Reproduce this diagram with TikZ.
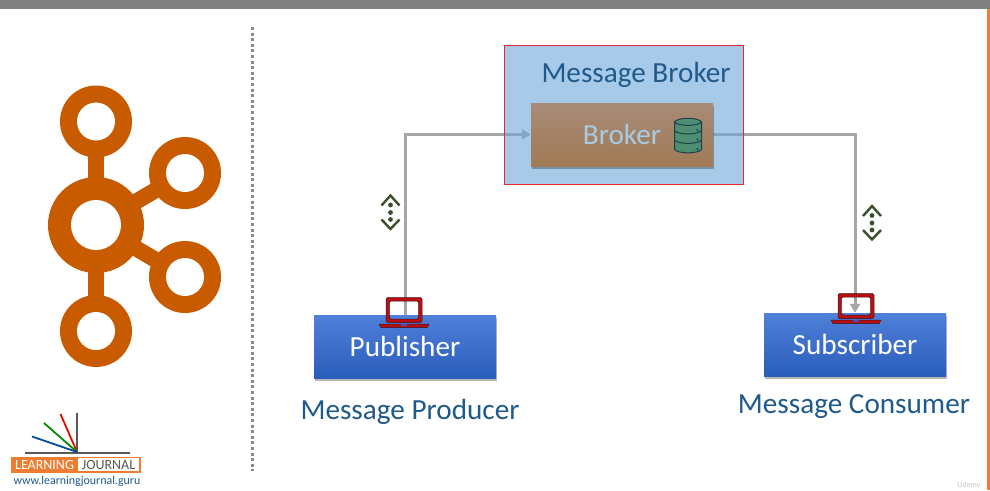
\documentclass[tikz,border=0pt]{standalone}
\usepackage{fontspec}
\setmainfont{Carlito}
\usetikzlibrary{shadows,arrows.meta,calc}
\pgfdeclarelayer{under}
\pgfsetlayers{under,main}
\definecolor{kafka}{HTML}{C85A00}
\definecolor{linkgray}{HTML}{A6A6A6}
\definecolor{titleblue}{HTML}{1F5A8C}
\definecolor{brokerblue}{HTML}{6BA8D9}
\definecolor{labelblue}{HTML}{A9CCE6}
\definecolor{laptopred}{HTML}{B81010}
\definecolor{laptopdark}{HTML}{3A1020}
\definecolor{iconolive}{HTML}{3B4F2B}
\definecolor{dbgreen}{HTML}{4E8F72}
\definecolor{dbdark}{HTML}{1F3F4A}
\definecolor{orangebar}{HTML}{ED7D31}
\definecolor{logogray}{HTML}{595959}
\definecolor{blue1}{HTML}{4F80DA}
\definecolor{blue2}{HTML}{2A5DBA}
\definecolor{brown1}{HTML}{A88B78}
\definecolor{brown2}{HTML}{A07A55}
\definecolor{boxred}{HTML}{E8282A}
\tikzset{
  caption/.style={text=titleblue,font=\fontsize{29.2}{32}\selectfont,inner sep=0pt},
  rolebox/.style={minimum width=182pt,minimum height=63pt,inner sep=0pt,
    text=white,font=\fontsize{29.2}{32}\selectfont,
    drop shadow={shadow xshift=.5pt,shadow yshift=-2.5pt,opacity=.28,fill=black}},
  bluebox/.style={rolebox,top color=blue1,bottom color=blue2},
  brownbox/.style={rolebox,top color=brown1,bottom color=brown2,text=labelblue},
  link/.style={draw=linkgray,line width=3pt,-{Triangle[length=9pt,width=10pt]}},
  spoke/.style={draw=kafka,line width=16pt},
}
\newcommand{\laptopicon}[2]{%
  \begin{scope}[shift={(#1,#2)}]
    \path[fill=laptopred,draw=laptopdark,line width=.5pt,even odd rule,rounded corners=1.5pt]
      (-18,-12.5) rectangle (18,12.5) (-14.7,-9) rectangle (14.7,9);
    \path[fill=laptopred,draw=laptopdark,line width=.5pt]
      (-25,14) -- (25,14) -- (23,17.5) -- (-23,17.5) -- cycle;
    \fill[blue!60!black!70!white] (-3,14) rectangle (3,15.5);
  \end{scope}}
\newcommand{\dotsicon}[2]{%
  \begin{scope}[shift={(#1,#2)}]
    \draw[iconolive,line width=2.4pt] (-9,-7) -- (0,-17) -- (9,-7);
    \draw[iconolive,line width=2.4pt] (-9,7) -- (0,16.5) -- (9,7);
    \foreach \yy in {-7.5,0,7}{\fill[iconolive] (0,\yy) circle (2.4);}
  \end{scope}}
\newcommand{\dbdisk}[1]{%
  \path[fill=dbgreen,draw=dbdark,line width=1pt]
    (674.5,#1) -- (674.5,#1+8.5) .. controls (678,#1+13) and (698,#1+13) .. (701.5,#1+8.5)
    -- (701.5,#1) -- cycle;
  \fill[dbdark] (697.5,#1+8) circle (1.2);}
\begin{document}
\begin{tikzpicture}[x=1pt,y=-1pt]
\useasboundingbox (0,0) rectangle (990,490);
\begin{pgfonlayer}{under}
\fill[white] (0,0) rectangle (990,490);
\end{pgfonlayer}
\fill[black!50] (0,0) rectangle (990,9);
\fill[orangebar] (987,9) rectangle (990,490);
\draw[black!45,line width=3pt,dash pattern=on 3pt off 2.6pt] (252,27) -- (252,471);

% Kafka logo
\draw[spoke] (96,121) -- (96,331);
\draw[spoke] (96,225) -- (185,173);
\draw[spoke] (96,225) -- (185,277);
\fill[kafka] (96,225) circle (48) (96,121.5) circle (36) (185,173) circle (36) (185,277) circle (36) (96,331) circle (36);
\fill[white] (96,225) circle (25) (96,121.5) circle (19) (185,173) circle (19) (185,277) circle (19) (96,331) circle (19);

% Learning Journal logo
\draw[logogray,line width=2pt] (25,453) -- (130,453);
\draw[logogray,line width=2pt] (77.3,412.5) -- (77.3,453);
\draw[red!85!black!90!orange,line width=1.8pt] (60.5,414) -- (77,452);
\draw[green!55!black,line width=1.8pt] (44,423) -- (77,452);
\draw[blue!45!black!70!cyan,line width=1.8pt] (32,436.5) -- (77,452);
\fill[orangebar] (10.7,456.5) rectangle (140.7,472.5);
\fill[white] (78,458) rectangle (138.5,471);
\node[inner sep=0pt,text=white,font=\fontsize{14}{15}\selectfont] (ljl) at (44.5,465) {LEARNING};
\node[inner sep=0pt,text=logogray,font=\fontsize{14}{15}\selectfont] (ljr) at (108.5,465) {JOURNAL};
\node[inner sep=0pt,text=titleblue,font=\fontsize{11.9}{14}\selectfont] (url) at (77,481) {www.learningjournal.guru};

% Message broker container and broker
\node[fill=brokerblue,fill opacity=.6,draw=none,minimum width=238pt,minimum height=138pt,inner sep=0pt] (mbox) at (624,115) {};
\draw[boxred,line width=1pt] (mbox.north west) rectangle (mbox.south east);
\node[caption] (mboxlabel) at (636,74.5) {Message Broker};
\node[brownbox] (broker) at (622,134.5) {Broker};
\dbdisk{141}
\dbdisk{131.5}
\dbdisk{122}
\path[fill=dbgreen,draw=dbdark,line width=1pt] (674.5,122) .. controls (678,117) and (698,117) .. (701.5,122) .. controls (698,126.5) and (678,126.5) .. (674.5,122) -- cycle;

% Publisher and subscriber
\node[bluebox] (pub) at (405,346.5) {Publisher};
\node[bluebox] (sub) at (855,344.5) {Subscriber};
\node[caption] (prod) at (410,411.5) {Message Producer};
\node[caption] (cons) at (854,407) {Message Consumer};

% Connectors, behind the boxes
\begin{pgfonlayer}{under}
\draw[link] (pub.north) |- (broker.west);
\draw[link] (broker.east) -| (sub.north);
\end{pgfonlayer}

\laptopicon{404}{310}
\laptopicon{856}{306}
\dotsicon{390.5}{212.5}
\dotsicon{872}{223}
\node[inner sep=0pt,text=black!22,font=\fontsize{8}{9}\selectfont] (wm) at (969,485) {Udemy};
\end{tikzpicture}
\end{document}
